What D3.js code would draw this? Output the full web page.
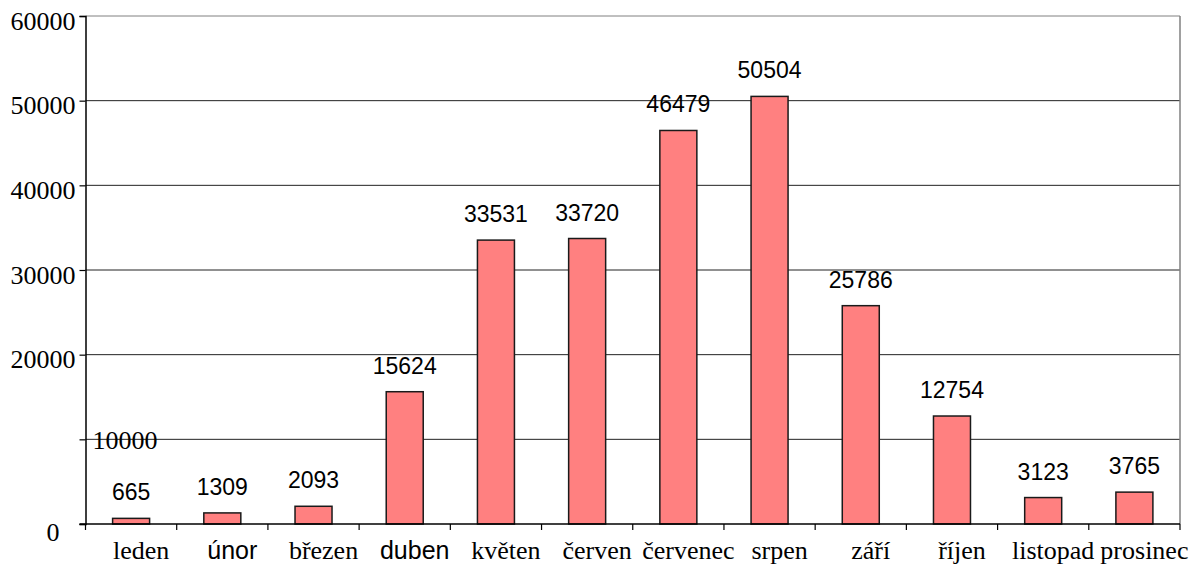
<!DOCTYPE html>
<html>
<head>
<meta charset="utf-8">
<script src="https://cdn.jsdelivr.net/npm/d3@7/dist/d3.min.js"></script>
<style>
  html, body { margin: 0; padding: 0; background: #fff; }
  svg { display: block; }
  .serif { font-family: "Liberation Serif", "Times New Roman", "DejaVu Serif", serif; }
  .sans { font-family: "Liberation Sans", Arial, "DejaVu Sans", sans-serif; }
</style>
</head>
<body>
<svg id="chart" width="1196" height="564"></svg>
<script>
// ---- data ----
const months = ["leden", "únor", "březen", "duben", "květen", "červen", "červenec", "srpen", "září", "říjen", "listopad", "prosinec"];
const values = [665, 1309, 2093, 15624, 33531, 33720, 46479, 50504, 25786, 12754, 3123, 3765];
const yTicks = [0, 10000, 20000, 30000, 40000, 50000, 60000];

(function () {
// ---- layout ----
const svg = d3.select("#chart");
const pLeft = 85.5, pRight = 1180, pTop = 16, pBottom = 524;

const xb = d3.scaleBand().domain(months).range([pLeft, pRight]);
const y = d3.scaleLinear().domain([0, 60000]).range([pBottom, pTop]);

const sansLabels = new Set(["únor", "duben"]);

// gridlines
svg.append("g").selectAll("line").data(yTicks.filter(d => d > 0)).join("line")
  .attr("x1", pLeft).attr("x2", pRight)
  .attr("y1", d => y(d)).attr("y2", d => y(d))
  .attr("stroke", d => d === 60000 ? "#808080" : "#222")
  .attr("stroke-width", 1);

// right border
svg.append("line").attr("x1", pRight).attr("x2", pRight).attr("y1", y(60000)).attr("y2", y(0))
  .attr("stroke", "#808080").attr("stroke-width", 1.5);

// bars
svg.append("g").selectAll("rect").data(values).join("rect")
  .attr("x", (d, i) => xb(months[i]) + xb.bandwidth() / 2 - 18.5)
  .attr("width", 37)
  .attr("y", d => y(d))
  .attr("height", d => y(0) - y(d))
  .attr("fill", "#FF8080")
  .attr("stroke", "#1a1a1a")
  .attr("stroke-width", 1.5);

// value labels
svg.append("g").selectAll("text").data(values).join("text")
  .attr("class", "sans")
  .attr("x", (d, i) => xb(months[i]) + xb.bandwidth() / 2)
  .attr("y", d => y(d) - 18)
  .attr("text-anchor", "middle")
  .style("font-size", "23px")
  .attr("fill", "#000")
  .text(d => d);

// y axis
const yAxis = d3.axisLeft(y).tickValues(yTicks).tickSize(6).tickPadding(4).tickFormat(d3.format("d"));
const gy = svg.append("g").attr("transform", `translate(${pLeft},0)`).call(yAxis);
gy.attr("font-family", null).attr("font-size", null);
gy.select(".domain").attr("stroke", "#000").attr("stroke-width", 1.5);
gy.selectAll(".tick line").attr("stroke", "#000").attr("stroke-width", 1.2);
gy.selectAll(".tick text")
  .attr("class", "serif")
  .style("font-size", "26px").attr("fill", "#000")
  .attr("dy", "0.5em");
// quirky label placements from the original
gy.selectAll(".tick text").filter(d => d === 10000)
  .attr("x", 7).attr("text-anchor", "start").attr("dy", "0.35em");
gy.selectAll(".tick text").filter(d => d === 0)
  .attr("x", -26).attr("dy", "0.65em");

// x axis
const xAxis = d3.axisBottom(xb).tickSize(0).tickPadding(0);
const gx = svg.append("g").attr("transform", `translate(0,${pBottom})`).call(xAxis);
gx.attr("font-family", null).attr("font-size", null);
gx.select(".domain").remove();
gx.append("line").attr("x1", pLeft - 6).attr("x2", pRight).attr("y1", 0).attr("y2", 0)
  .attr("stroke", "#000").attr("stroke-width", 1.5);
gx.selectAll(".sep").data(months.concat(["end"])).join("line")
  .attr("class", "sep")
  .attr("x1", (d, i) => i < months.length ? xb(d) : pRight)
  .attr("x2", (d, i) => i < months.length ? xb(d) : pRight)
  .attr("y1", 0).attr("y2", 6)
  .attr("stroke", "#000").attr("stroke-width", 1.2);
gx.selectAll(".tick text")
  .attr("class", d => sansLabels.has(d) ? "sans" : "serif")
  .attr("y", 35)
  .attr("dy", 0)
  .attr("dx", 10)
  .style("font-size", d => sansLabels.has(d) ? "25px" : "26px")
  .attr("fill", "#000");
})();
</script>
</body>
</html>
